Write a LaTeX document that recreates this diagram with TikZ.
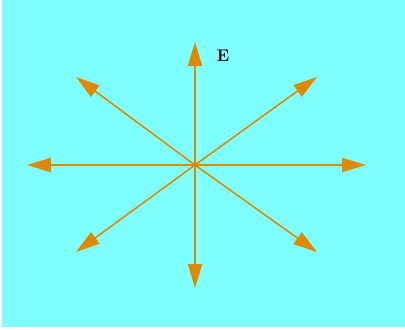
\documentclass[tikz,border=0pt]{standalone}
\usepackage{tikz}
\usetikzlibrary{arrows.meta}
\definecolor{skycyan}{RGB}{128,255,255}
\definecolor{fieldorange}{RGB}{224,136,0}
\tikzset{
  axarr/.style  ={-{Triangle[length=17pt, width=10pt]}, line width=1.4pt,
                  draw=fieldorange, fill=fieldorange},
  diarr/.style  ={-{Triangle[length=17pt, width=10pt]}, line width=1.1pt,
                  draw=fieldorange, fill=fieldorange},
  lbl/.style    ={font=\large\bfseries, inner sep=1pt},
}

\begin{document}
\begin{tikzpicture}[x=0.025cm, y=-0.025cm]
  \useasboundingbox[fill=white] (0,0) rectangle (405,329);
  \fill[skycyan] (2,0) rectangle (405,327);
  \coordinate (o) at (195,165);
  \coordinate (up) at (195,42);
  \coordinate (dn) at (195,288);
  \coordinate (lt) at (27,165);
  \coordinate (rt) at (366,165);
  \coordinate (ul) at (76,77);
  \coordinate (ur) at (317,77);
  \coordinate (dl) at (76,252);
  \coordinate (dr) at (317,252);
  \node[lbl] (e) at (223,56) {E};
  \draw[axarr] (o) -- (up);
  \draw[axarr] (o) -- (dn);
  \draw[axarr] (o) -- (lt);
  \draw[axarr] (o) -- (rt);
  \draw[diarr] (o) -- (ul);
  \draw[diarr] (o) -- (ur);
  \draw[diarr] (o) -- (dl);
  \draw[diarr] (o) -- (dr);
  \fill[fieldorange] (o) circle (2.5);
\end{tikzpicture}
\end{document}
